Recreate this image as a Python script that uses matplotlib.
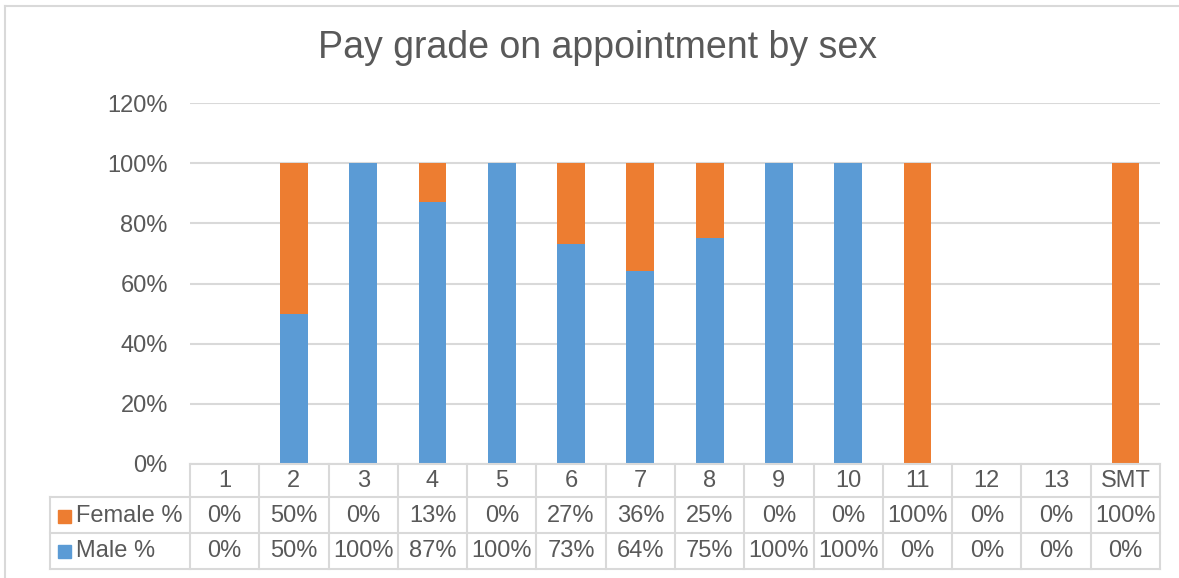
import matplotlib.pyplot as plt
from matplotlib.patches import Rectangle
from matplotlib.lines import Line2D

# données du graphique
grades = ['1', '2', '3', '4', '5', '6', '7', '8', '9', '10', '11', '12', '13', 'SMT']
female = [0, 50, 0, 13, 0, 27, 36, 25, 0, 0, 100, 0, 0, 100]
male = [0, 50, 100, 87, 100, 73, 64, 75, 100, 100, 0, 0, 0, 0]

orange = '#ED7D31'
bleu = '#5B9BD5'
gris_txt = '#595959'
gris_lig = '#D9D9D9'

W, H = 1179, 578
fig = plt.figure(figsize=(W / 100, H / 100), dpi=100)
plt.rcParams['font.family'] = ['Liberation Sans', 'DejaVu Sans']
fs = 17

def fx(px):
    return px / W

def fy(py):
    return 1 - py / H

# zone de tracé : x 190 -> 1160, y 103 (120%) -> 464 (0%)
ax = fig.add_axes([fx(190), fy(464), fx(1160) - fx(190), fy(103) - fy(464)])

x = range(len(grades))
ax.bar(x, male, width=0.4, color=bleu, zorder=3)
ax.bar(x, female, width=0.4, bottom=male, color=orange, zorder=3)

ax.set_xlim(-0.5, len(grades) - 0.5)
ax.set_ylim(0, 120)
ax.set_yticks(range(0, 121, 20))
ax.set_yticklabels([f'{v}%' for v in range(0, 121, 20)])
ax.tick_params(axis='y', length=0, pad=16, labelsize=fs, labelcolor=gris_txt)
ax.set_xticks([])
ax.grid(axis='y', color=gris_lig, linewidth=1.5, zorder=0)
for s in ax.spines.values():
    s.set_visible(False)

fig.text(0.5065, fy(48), 'Pay grade on appointment by sex', ha='center', va='center',
         fontsize=27, color=gris_txt)

# bordure du graphique (haut et gauche seulement visibles)
fig.add_artist(Line2D([fx(5), 1], [fy(6), fy(6)], color=gris_lig, lw=1.5))
fig.add_artist(Line2D([fx(5), fx(5)], [fy(6), 0], color=gris_lig, lw=1.5))

### tableau de données sous le graphique
col_w = (1160 - 190) / len(grades)
rows_y = [464, 497, 533, 569]
lw_t = 1.5

# lignes horizontales
fig.add_artist(Line2D([fx(190), fx(1160)], [fy(464), fy(464)], color=gris_lig, lw=lw_t))
for yy in rows_y[1:]:
    fig.add_artist(Line2D([fx(50), fx(1160)], [fy(yy), fy(yy)], color=gris_lig, lw=lw_t))
# lignes verticales
for i in range(len(grades) + 1):
    xx = 190 + i * col_w
    fig.add_artist(Line2D([fx(xx), fx(xx)], [fy(464), fy(569)], color=gris_lig, lw=lw_t))
fig.add_artist(Line2D([fx(50), fx(50)], [fy(497), fy(569)], color=gris_lig, lw=lw_t))

# textes
for i, g in enumerate(grades):
    cx = 190 + (i + 0.5) * col_w
    fig.text(fx(cx), fy(481), g, ha='center', va='center', fontsize=fs, color=gris_txt)
    fig.text(fx(cx), fy(516), f'{female[i]}%', ha='center', va='center', fontsize=fs, color=gris_txt)
    fig.text(fx(cx), fy(551), f'{male[i]}%', ha='center', va='center', fontsize=fs, color=gris_txt)

for lab, col, yc in [('Female %', orange, 516), ('Male %', bleu, 551)]:
    fig.add_artist(Rectangle((fx(58), fy(yc + 6.5)), fx(13), 13 / H, color=col))
    fig.text(fx(76), fy(yc), lab, ha='left', va='center', fontsize=fs, color=gris_txt)

plt.savefig('out.png', dpi=100)
